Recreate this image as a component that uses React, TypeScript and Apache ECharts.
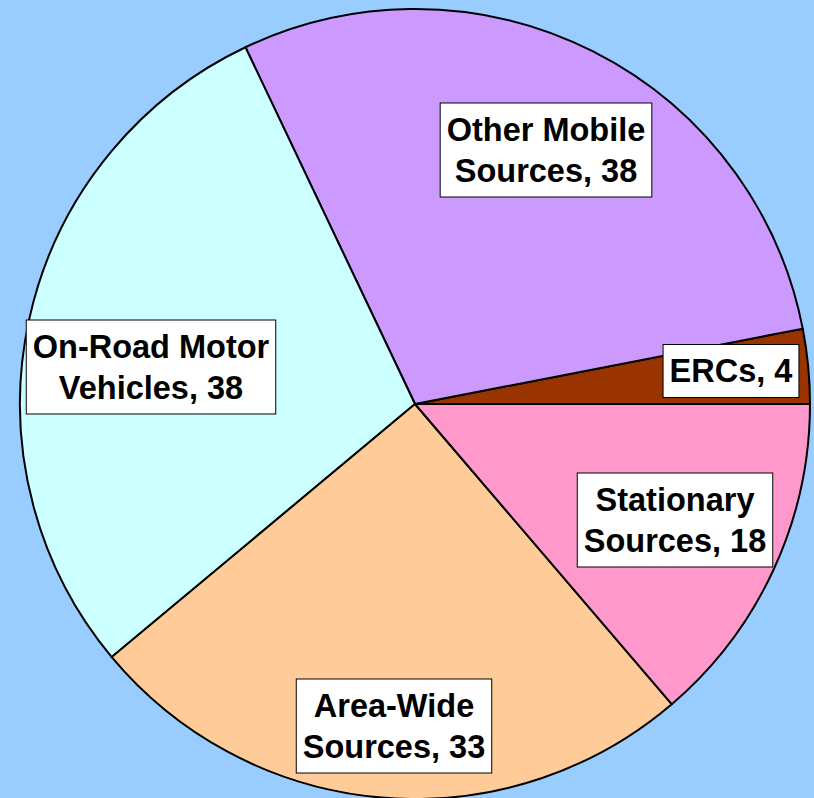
import React, { useEffect, useRef } from "react";
import * as echarts from "echarts";

const categories = [
  "ERCs",
  "Other Mobile\nSources",
  "On-Road Motor\nVehicles",
  "Area-Wide\nSources",
  "Stationary\nSources",
];
const values = [4, 38, 38, 33, 18];
const colors = ["#993300", "#cc99ff", "#ccffff", "#ffcc99", "#ff99cc"];
const labelCenters = [
  [731, 371],
  [546, 150],
  [151, 367],
  [394, 726],
  [675, 520],
];

export default function App() {
  const ref = useRef<HTMLDivElement>(null);
  useEffect(() => {
    if (!ref.current) return;
    const chart = echarts.init(ref.current, undefined, { renderer: "svg" });
    chart.setOption({
      animation: false,
      backgroundColor: "#99ccff",
      series: [
        {
          type: "pie",
          center: [415, 404],
          radius: 395,
          startAngle: 0,
          clockwise: false,
          avoidLabelOverlap: false,
          itemStyle: { borderColor: "#000", borderWidth: 2 },
          label: {
            show: true,
            position: "inside",
            formatter: (p: any) => `${p.name}, ${p.value}`,
            color: "#000",
            fontFamily: "'Liberation Sans', Arial, sans-serif",
            fontWeight: "bold",
            fontSize: 32.5,
            lineHeight: 41,
            backgroundColor: "#fff",
            borderColor: "#000",
            borderWidth: 1,
            padding: [6, 6, 5, 6],
            align: "center",
          },
          labelLine: { show: false },
          labelLayout: (p: any) => ({
            x: labelCenters[p.dataIndex][0],
            y: labelCenters[p.dataIndex][1],
            align: "center",
            verticalAlign: "middle",
          }),
          data: categories.map((c, i) => ({
            name: c,
            value: values[i],
            itemStyle: { color: colors[i] },
          })),
        },
      ],
    });
    return () => chart.dispose();
  }, []);
  return (
    <div
      ref={ref}
      style={{ position: "absolute", left: 0, top: 0, width: 814, height: 798 }}
    />
  );
}
